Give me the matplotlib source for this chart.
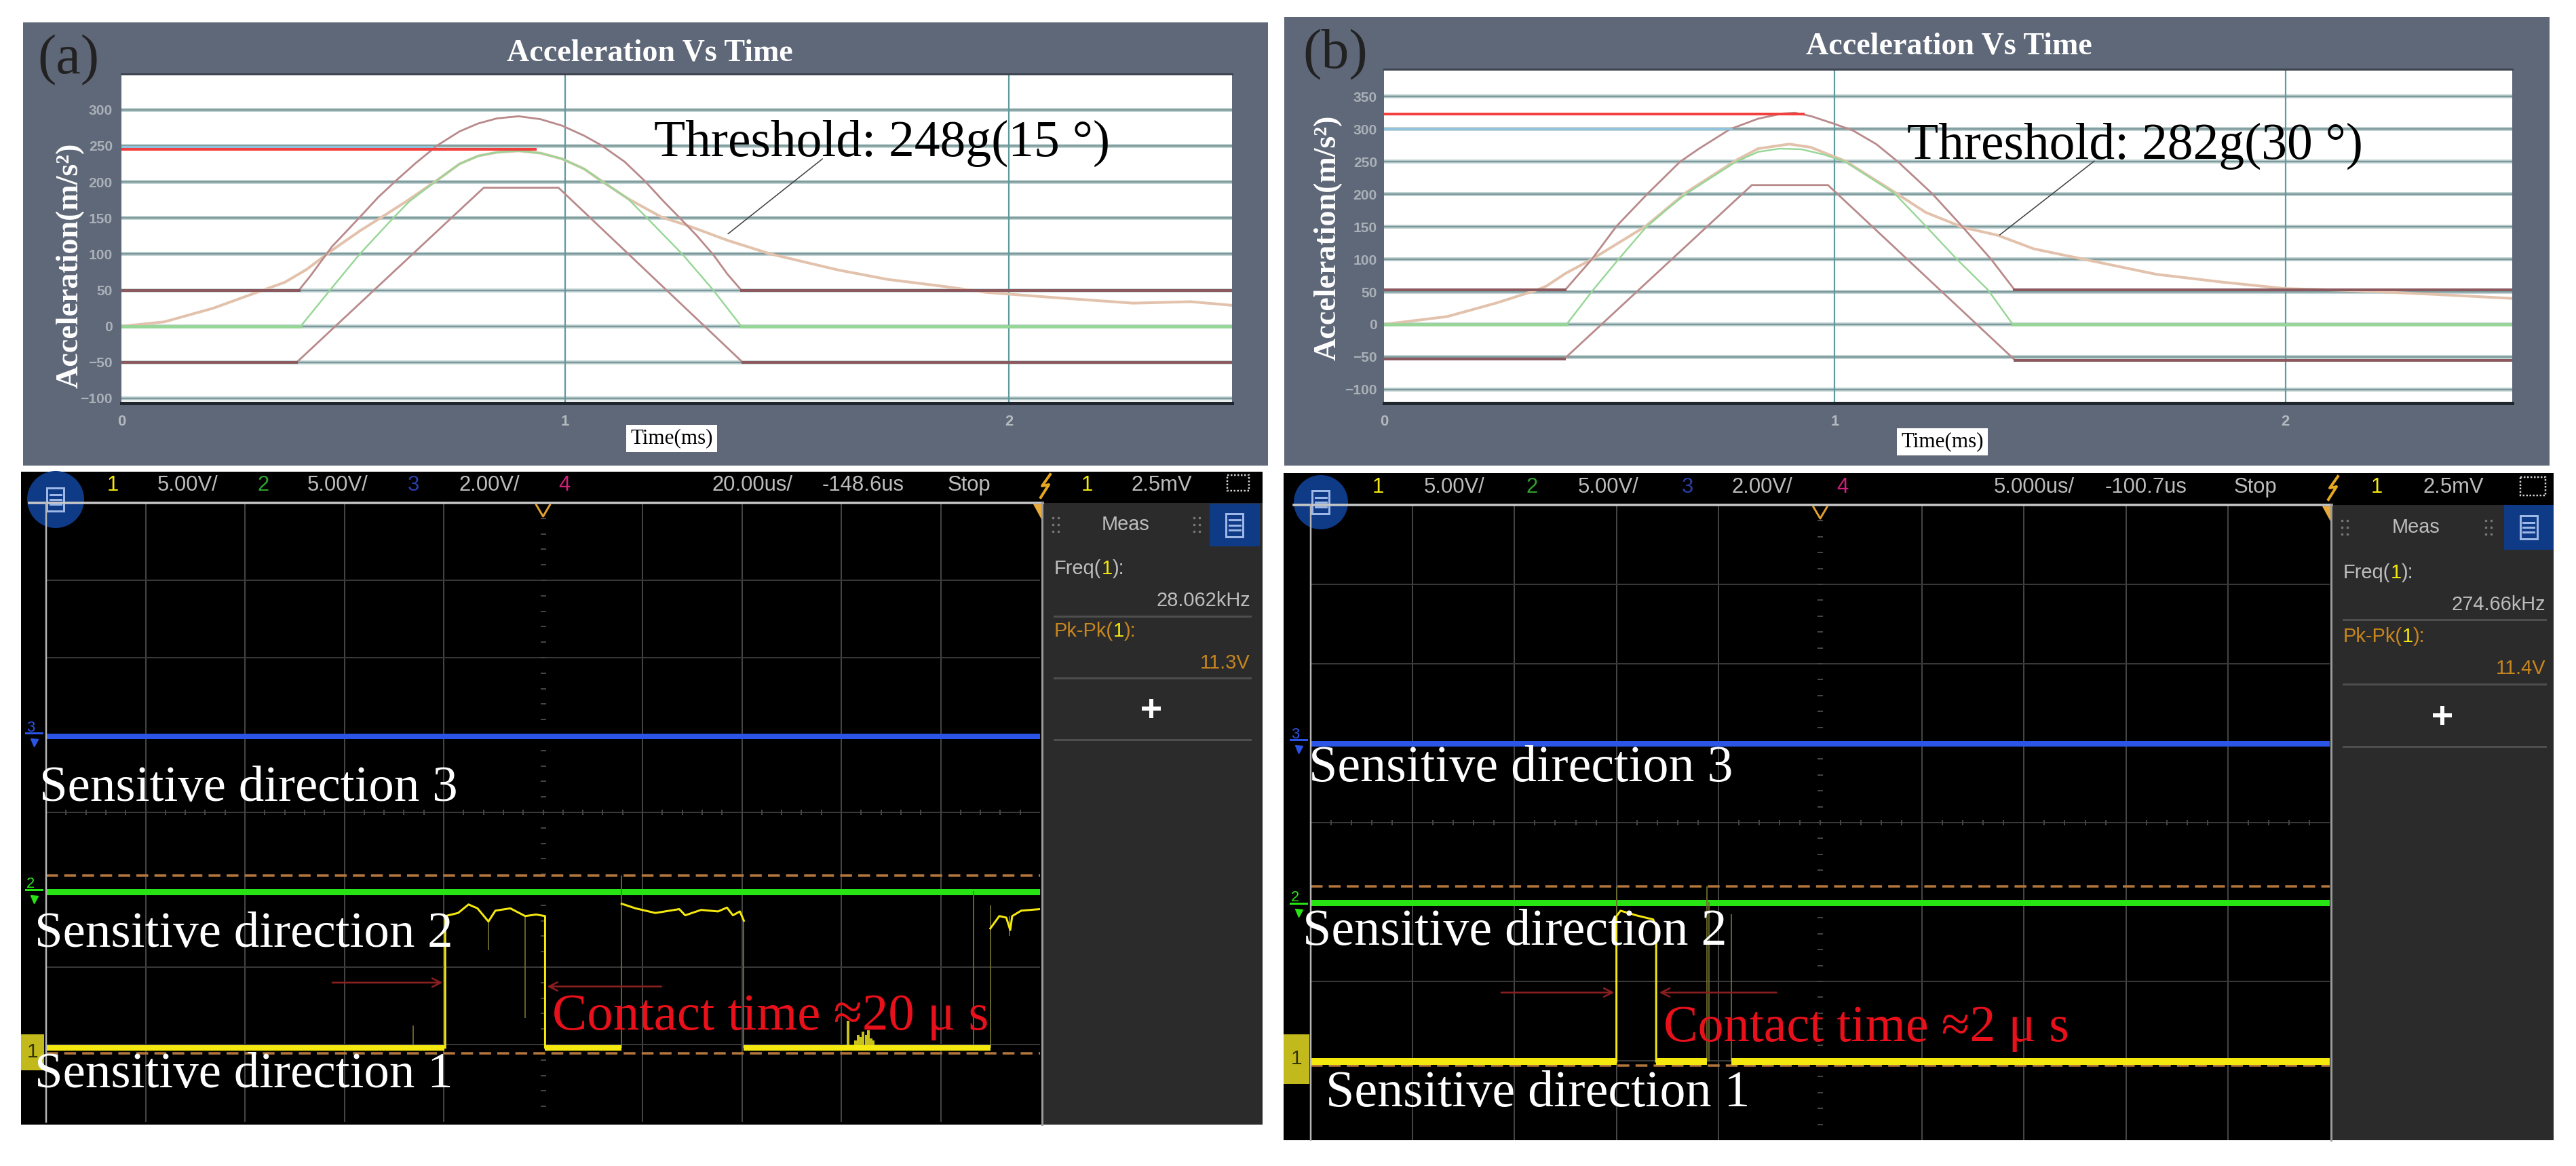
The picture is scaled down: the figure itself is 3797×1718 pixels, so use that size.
#!/usr/bin/env python3
import numpy as np
import matplotlib
matplotlib.use("Agg")
import matplotlib.pyplot as plt
from matplotlib.patches import Rectangle, Circle

W, H = 3798, 1718
SERIF = "Liberation Serif"
SANS = "Liberation Sans"

# =========================
# acceleration panels: values
# =========================
a_upper_t = [0, 0.400, 0.425, 0.474, 0.537, 0.579, 0.621, 0.663, 0.713, 0.762, 0.804, 0.846, 0.895, 0.944, 0.993,
             1.043, 1.081, 1.134, 1.180, 1.222, 1.257, 1.296, 1.334, 1.366, 1.397, 2.503]
a_upper_v = [50, 50, 69, 110, 151, 179, 203, 226, 251, 270, 281, 288, 291, 287, 278,
             264, 251, 228, 201, 173, 151, 126, 99, 72, 50, 50]
a_green_t = [0, 0.404, 0.470, 0.537, 0.614, 0.649, 0.713, 0.762, 0.804, 0.846, 0.895, 0.944, 0.993,
             1.043, 1.078, 1.141, 1.183, 1.264, 1.334, 1.397, 2.503]
a_green_v = [0, 0, 50, 100, 151, 173, 203, 225, 236, 241, 243, 240, 232,
             218, 203, 177, 151, 100, 50, 0, 0]
a_lower_t = [0, 0.395, 0.8165, 0.985, 1.40, 2.503]
a_lower_v = [-50, -50, 192, 192, -50, -50]
a_accel_t = [0, 0.096, 0.207, 0.319, 0.3685, 0.418, 0.474, 0.537, 0.586, 0.642, 0.713, 0.762, 0.804, 0.846, 0.895,
             0.944, 0.993, 1.043, 1.078, 1.141, 1.218, 1.274, 1.366, 1.464, 1.615, 1.726, 1.856, 1.948, 2.096, 2.28,
             2.41, 2.503]
a_accel_v = [0, 6, 25, 50, 61, 79, 105, 132, 151, 173, 203, 225, 236, 241, 243,
             240, 232, 218, 203, 177, 151, 140, 119, 100, 78, 65, 55, 47, 40, 32,
             34, 29]
a_red_t = [0, 0.933]
a_red_v = [245, 245]
a_blue_t = [0, 0.70]
a_blue_v = [249, 249]
a_yticks = [-100, -50, 0, 50, 100, 150, 200, 250, 300]

b_upper_t = [0, 0.402, 0.461, 0.516, 0.585, 0.657, 0.699, 0.768, 0.830, 0.885, 0.912, 0.947, 0.995,
             1.040, 1.092, 1.140, 1.216, 1.282, 1.347, 1.399, 2.50]
b_upper_v = [53, 53, 100, 151, 201, 250, 270, 300, 316, 324, 325, 320, 309,
             298, 277, 250, 201, 151, 100, 53, 53]
b_green_t = [0, 0.405, 0.464, 0.519, 0.581, 0.630, 0.671, 0.781, 0.830, 0.878, 0.926, 0.975, 1.023,
             1.133, 1.202, 1.271, 1.340, 1.395, 2.50]
b_green_v = [0, 0, 53, 99, 149, 178, 201, 250, 265, 270, 269, 261, 250,
             201, 151, 100, 53, 0, 0]
b_lower_t = [0, 0.40, 0.816, 0.985, 1.40, 2.50]
b_lower_v = [-53, -53, 214, 214, -55, -55]
b_accel_t = [0, 0.14, 0.25, 0.34, 0.3606, 0.402, 0.461, 0.581, 0.671, 0.781, 0.830, 0.899, 0.947, 1.023, 1.133,
             1.202, 1.285, 1.361, 1.442, 1.567, 1.713, 1.859, 2.0, 2.15, 2.334, 2.50]
b_accel_v = [0, 12, 33, 53, 59, 78, 100, 151, 203, 252, 270, 277, 272, 251, 203,
             172, 149, 137, 116, 98, 77, 65, 55, 52, 46, 40]
b_red_t = [0, 0.93]
b_red_v = [323, 323]
b_blue_t = [0, 0.77]
b_blue_v = [300, 300]
b_yticks = [-100, -50, 0, 50, 100, 150, 200, 250, 300, 350]

xticks_ms = [0, 1, 2]

# =========================
# oscilloscope traces, in screen divisions
# =========================
a_blue_level = 4.98
a_green_level = 2.97
a_trig_levels = [3.18, 0.89]
a_low_x = [0, 4.01, np.nan, 5.02, 5.79, np.nan, 7.02, 9.50]
a_low_y = [0.96, 0.96, np.nan, 0.96, 0.96, np.nan, 0.96, 0.96]
a_high_x = [4.015, 4.015, 4.145, 4.25, 4.34, 4.45, 4.52, 4.67, 4.76, 4.82, 4.93, 5.02, 5.02, np.nan,
            5.79, 5.93, 6.13, 6.37, 6.43, 6.59, 6.76, 6.85, 6.91, 6.98, 7.02, np.nan,
            9.50, 9.59, 9.66, 9.70, 9.72, 9.81, 10.0]
a_high_y = [0.96, 2.66, 2.70, 2.81, 2.76, 2.59, 2.73, 2.76, 2.70, 2.66, 2.68, 2.66, 0.96, np.nan,
            2.82, 2.76, 2.70, 2.75, 2.67, 2.74, 2.72, 2.77, 2.67, 2.72, 2.60, np.nan,
            2.50, 2.66, 2.64, 2.48, 2.66, 2.73, 2.75]
a_spike_x = [3.69, 4.45, 4.82, 5.79, 7.02, 9.33, 9.50, 9.69]
a_spike_lo = [0.96, 2.22, 1.34, 0.96, 0.96, 0.96, 0.96, 2.4]
a_spike_hi = [1.25, 2.59, 2.66, 3.18, 2.60, 2.98, 2.80, 2.66]
a_noise_x = [8.07, 8.14, 8.17, 8.20, 8.22, 8.25, 8.27, 8.30, 8.32]
a_noise_hi = [1.31, 1.05, 1.12, 1.10, 1.17, 1.12, 1.18, 1.08, 1.05]

b_blue_level = 4.99
b_green_level = 2.99
b_trig_levels = [3.20, 0.94]
b_low_x = [0, 3.0, np.nan, 3.39, 3.89, np.nan, 4.13, 10.0]
b_low_y = [0.99, 0.99, np.nan, 0.99, 0.99, np.nan, 0.99, 0.99]
b_high_x = [3.0, 3.0, 3.04, 3.20, 3.36, 3.39, 3.39]
b_high_y = [0.99, 2.82, 2.89, 2.83, 2.78, 2.70, 0.99]
b_spike_x = [3.0, 3.89, 3.91, 4.13]
b_spike_lo = [2.8, 0.99, 0.99, 0.99]
b_spike_hi = [3.2, 3.2, 3.0, 2.85]

# texts
title_text = "Acceleration Vs Time"
ylabel_text = "Acceleration(m/s²)"
xlabel_text = "Time(ms)"
a_threshold = "Threshold: 248g(15 °)"
b_threshold = "Threshold: 282g(30 °)"
a_contact = "Contact time ≈20 μ s"
b_contact = "Contact time ≈2 μ s"
a_scope_vals = ["20.00us/", "-148.6us", "28.062kHz", "11.3V"]
b_scope_vals = ["5.000us/", "-100.7us", "274.66kHz", "11.4V"]

PANEL = "#5f6878"
ROSE = "#b98a8b"
ROSE_D = "#8c5a5e"
GREEN_L = "#96d696"
TAN = "#e2c2ac"
RED = "#f2403f"
SKY = "#8ec3e0"
DARK = "#2b2b2b"
TXT = "#bdbdbd"
ORANGE = "#c8861e"
YELLOW = "#f4e80e"
NAVY = "#0f3a86"


def pt(px):
    return px * 0.72


def make_axes(l, t, r, b, **kw):
    return fig.add_axes([l / W, 1 - b / H, (r - l) / W, (b - t) / H], **kw)


fig = plt.figure(figsize=(W / 100, H / 100), dpi=100, facecolor="white")
bg = make_axes(0, 0, W, H, zorder=-5)
fg = make_axes(0, 0, W, H, zorder=10)
for o in (bg, fg):
    o.set_xlim(0, W)
    o.set_ylim(H, 0)
    o.axis("off")
renderer = fig.canvas.get_renderer()


# =========================
# upper panels
# =========================
def draw_accel(box, plot, ylim, yticks, upper, green, lower, accel, red, blue, leader, tick_pad):
    bg.add_patch(Rectangle((box[0], box[1]), box[2] - box[0], box[3] - box[1], fc=PANEL, ec="none"))
    ax = make_axes(*plot)
    ax.set_xlim(0, 2.503)
    ax.set_ylim(*ylim)
    ax.set_facecolor("white")
    for y in yticks:
        ax.axhline(y, color="#b3c8c8", lw=pt(5.5), zorder=1)
        ax.axhline(y, color="#7d989a", lw=pt(2), zorder=1.1)
    for t in xticks_ms[1:]:
        ax.axvline(t, color="#5f9a9c", lw=pt(2.2), zorder=1.2)

    ax.plot(*accel, color=TAN, lw=pt(4), zorder=3)
    ax.plot(*green, color=GREEN_L, lw=pt(2.4), zorder=3.2)
    # flat guard levels are heavier than the slopes
    ax.plot(green[0][:2], green[1][:2], color=GREEN_L, lw=pt(4.5), zorder=3.2)
    ax.plot(green[0][-2:], green[1][-2:], color=GREEN_L, lw=pt(4.5), zorder=3.2)
    for curve in (upper, lower):
        ax.plot(*curve, color=ROSE, lw=pt(2.8), zorder=3.4)
        ax.plot(curve[0][:2], curve[1][:2], color=ROSE_D, lw=pt(4), zorder=3.4)
        ax.plot(curve[0][-2:], curve[1][-2:], color=ROSE_D, lw=pt(4), zorder=3.4)
    ax.plot(*blue, color=SKY, lw=pt(3), zorder=3.5)
    ax.plot(*red, color=RED, lw=pt(4), zorder=3.6)
    ax.annotate("", xy=leader[0], xytext=leader[1], zorder=5,
                arrowprops=dict(arrowstyle="-", color="#444444", lw=pt(1.6), shrinkA=0, shrinkB=0))

    ax.set_xticks(xticks_ms)
    ax.set_yticks(yticks)
    ax.tick_params(axis="x", length=0, pad=pt(17), labelsize=pt(22), labelcolor="#b4b9c0")
    ax.tick_params(axis="y", length=0, pad=pt(tick_pad), labelsize=pt(21), labelcolor="#aab0b8")
    for lab in ax.get_xticklabels() + ax.get_yticklabels():
        lab.set_fontfamily(SANS)
        lab.set_fontweight("bold")
    for side in ("left", "right"):
        ax.spines[side].set_visible(False)
    ax.spines["top"].set_color("#3d4450")
    ax.spines["top"].set_linewidth(pt(3))
    ax.spines["bottom"].set_color("#20262e")
    ax.spines["bottom"].set_linewidth(pt(5))


a_plot = (179, 109, 1816, 594)
b_plot = (2040, 102, 3703, 594)
draw_accel((34, 33, 1869, 686), a_plot, (-106.6, 349.6), a_yticks,
           (a_upper_t, a_upper_v), (a_green_t, a_green_v), (a_lower_t, a_lower_v), (a_accel_t, a_accel_v),
           (a_red_t, a_red_v), (a_blue_t, a_blue_v), ((1.367, 128), (1.58, 232)), 13)
draw_accel((1893, 25, 3758, 686), b_plot, (-121, 392), b_yticks,
           (b_upper_t, b_upper_v), (b_green_t, b_green_v), (b_lower_t, b_lower_v), (b_accel_t, b_accel_v),
           (b_red_t, b_red_v), (b_blue_t, b_blue_v), ((1.366, 137.5), (1.576, 251)), 10)

for x, y in ((958, 78), (2873, 68)):
    fg.text(x, y, title_text, family=SERIF, weight="bold", color="white", size=pt(46), ha="center", va="center")
for x, y in ((103, 391), (1957, 350)):
    fg.text(x, y, ylabel_text, family=SERIF, weight="bold", color="white", size=pt(46), rotation=90,
            ha="center", va="center")
for x, y in ((990, 646), (2863, 651)):
    fg.text(x, y, xlabel_text, family=SERIF, color="black", size=pt(31), ha="center", va="center",
            bbox=dict(fc="white", ec="none", pad=pt(6)))
fg.text(964, 230, a_threshold, family=SERIF, color="black", size=pt(75.5))
fg.text(2811, 234, b_threshold, family=SERIF, color="black", size=pt(75.5))
fg.text(55, 108, "(a)", family=SERIF, color="#222222", size=pt(82))
fg.text(1920, 100, "(b)", family=SERIF, color="#222222", size=pt(82))


# =========================
# oscilloscope panels
# =========================
def pieces(x, y, parts, size):
    for s, c in parts:
        t = fg.text(x, y, s, color=c, family=SANS, size=pt(size), va="center")
        x = t.get_window_extent(renderer).x1


def menu_icon(cx, cy, w, h):
    fg.add_patch(Rectangle((cx - w / 2, cy - h / 2), w, h, fc="none", ec="#9db7e6", lw=pt(3)))
    for f in (-0.22, 0, 0.22):
        fg.plot([cx - w * 0.32, cx + w * 0.32], [cy + f * h, cy + f * h], color="#9db7e6", lw=pt(3))


def draw_scope(box, plot, split, hdr, circle, tab, rows, vals, traces, arrows, low_lw):
    l, t, r, b = box
    bg.add_patch(Rectangle((l, t), r - l, b - t, fc="black", ec="none"))
    bg.add_patch(Rectangle((split, plot[1]), r - split, b - plot[1], fc=DARK, ec="none"))

    ax = make_axes(*plot)
    ax.set_xlim(0, 10)
    ax.set_ylim(0, 8)
    ax.set_facecolor("black")
    ax.axis("off")
    for d in (1, 2, 3, 4, 6, 7, 8, 9):
        ax.axvline(d, color="#444444", lw=pt(2), zorder=1)
    for d in (1, 2, 4, 6, 7):
        ax.axhline(d, color="#383838", lw=pt(2), zorder=1)
    # dotted centre cross
    cx = np.arange(0.2, 10, 0.2)
    cy = np.arange(0.2, 8, 0.2)
    ax.plot(cx, np.full_like(cx, 4), ls="none", marker="|", ms=pt(8), color="#444444", mew=pt(2), zorder=1)
    ax.plot(np.full_like(cy, 5), cy, ls="none", marker="_", ms=pt(8), color="#444444", mew=pt(2), zorder=1)

    ax.axhline(traces["blue"], color="#2a55e6", lw=pt(8), zorder=3)
    for lvl in traces["trig"]:
        ax.axhline(lvl, color="#b3763c", lw=pt(3.5), dashes=(5, 2.6), zorder=3)
    ax.axhline(traces["green"], color="#28e414", lw=pt(9), zorder=3)
    ax.vlines(traces["spike_x"], traces["spike_lo"], traces["spike_hi"], color="#6f6d2c", lw=pt(1.8), zorder=3.5)
    if "noise_x" in traces:
        ax.vlines(traces["noise_x"], traces["low_y"][0], traces["noise_hi"], color="#c9c21a", lw=pt(4), zorder=3.5)
    ax.plot(traces["low_x"], traces["low_y"], color=YELLOW, lw=pt(low_lw), solid_capstyle="butt", zorder=4)
    ax.plot(traces["high_x"], traces["high_y"], color=YELLOW, lw=pt(3), zorder=4)
    for tip, tail, y in arrows:
        ax.annotate("", xy=(tip, y), xytext=(tail, y), zorder=5,
                    arrowprops=dict(arrowstyle="->,head_length=0.9,head_width=0.45", color="#8a1f1f", lw=pt(2.6),
                                    shrinkA=0, shrinkB=0))

    # frame lines
    fg.plot([plot[0] - 25, split], [plot[1], plot[1]], color="#c9c9c9", lw=pt(3.5))
    fg.plot([plot[0], plot[0]], [plot[1], plot[3]], color="#b5b5b5", lw=pt(2.5))
    fg.plot([split - 1, split - 1], [plot[1], b], color="#9b9b9b", lw=pt(3))

    # header strip
    y = hdr["y"]
    for x, s, c in hdr["items"]:
        fg.text(x, y, s, color=c, family=SANS, size=pt(31), va="center")
    bx = hdr["bolt"]
    fg.plot([bx + 7, bx - 5, bx + 5, bx - 7], [y - 16, y + 1, y - 1, y + 18], color="#e6a81e", lw=pt(4))
    sq = hdr["square"]
    fg.add_patch(Rectangle((sq[0], sq[1]), sq[2], sq[3], fc="none", ec="#d0d0d0", lw=pt(2.5), ls=(0, (1, 1))))

    # menu button
    fg.add_patch(Circle(circle[:2], circle[2], fc=NAVY, ec="none"))
    menu_icon(circle[0], circle[1], 25, 34)

    # trigger marks
    mx = (plot[0] + plot[2]) / 2
    fg.plot([mx - 10, mx, mx + 10], [plot[1] + 3, plot[1] + 20, plot[1] + 3], color="#e0a030", lw=pt(3))
    fg.fill([split - 14, split - 2, split - 2], [plot[1] + 2, plot[1] + 2, plot[1] + 24], color="#e8aa3a", lw=0)

    # measurement side bar
    fg.add_patch(Rectangle((tab[0], tab[1]), tab[2] - tab[0], tab[3] - tab[1], fc=NAVY, ec="none"))
    menu_icon((tab[0] + tab[2]) / 2, (tab[1] + tab[3]) / 2, 25, 34)
    fg.text(rows["meas_x"], rows["meas_y"], "Meas", color=TXT, family=SANS, size=pt(29), ha="center", va="center")
    for dx in rows["grip"]:
        fg.plot([dx, dx + 8] * 3, np.repeat([rows["meas_y"] - 10, rows["meas_y"], rows["meas_y"] + 10], 2),
                ls="none", marker="s", ms=pt(2.5), color="#777777")
    pieces(rows["left"], rows["y"][0], [("Freq(", TXT), ("1", YELLOW), ("):", TXT)], 29)
    fg.text(rows["right"], rows["y"][1], vals[2], color=TXT, family=SANS, size=pt(29), ha="right", va="center")
    pieces(rows["left"], rows["y"][2], [("Pk-Pk(", ORANGE), ("1", YELLOW), ("):", ORANGE)], 29)
    fg.text(rows["right"], rows["y"][3], vals[3], color=ORANGE, family=SANS, size=pt(29), ha="right", va="center")
    for ly in rows["lines"]:
        fg.plot([rows["left"], rows["right"]], [ly, ly], color="#4e4e4e", lw=pt(3))
    fg.plot([rows["plus"][0] - 11, rows["plus"][0] + 11], [rows["plus"][1]] * 2, color="white", lw=pt(6))
    fg.plot([rows["plus"][0]] * 2, [rows["plus"][1] - 11, rows["plus"][1] + 11], color="white", lw=pt(6))

    # channel markers at the left edge
    for ym, num, col in hdr["chan"]:
        fg.text(plot[0] - 23, ym, num, color=col, family=SANS, size=pt(22), ha="center", va="center")
        fg.plot([plot[0] - 30, plot[0] - 6], [ym + 8, ym + 8], color=col, lw=pt(3))
        fg.plot([plot[0] - 18], [ym + 22], marker="v", ms=pt(11), color=col, ls="none")
    yb = hdr["ybox"]
    fg.add_patch(Rectangle((yb[0], yb[1]), yb[2] - yb[0], yb[3] - yb[1], fc="#c2b91c", ec="none"))
    fg.text((yb[0] + yb[2]) / 2, (yb[1] + yb[3]) / 2, "1", color="#333300", family=SANS, size=pt(30),
            ha="center", va="center")


a_traces = dict(blue=a_blue_level, green=a_green_level, trig=a_trig_levels, low_x=a_low_x, low_y=a_low_y,
                high_x=a_high_x, high_y=a_high_y, spike_x=a_spike_x, spike_lo=a_spike_lo, spike_hi=a_spike_hi,
                noise_x=a_noise_x, noise_hi=a_noise_hi)
b_traces = dict(blue=b_blue_level, green=b_green_level, trig=b_trig_levels, low_x=b_low_x, low_y=b_low_y,
                high_x=b_high_x, high_y=b_high_y, spike_x=b_spike_x, spike_lo=b_spike_lo, spike_hi=b_spike_hi)

a_hdr = dict(y=715, bolt=1541, square=(1809, 700, 32, 23),
             items=[(158, "1", YELLOW), (232, "5.00V/", TXT), (380, "2", "#30a030"), (453, "5.00V/", TXT),
                    (601, "3", "#2a3fa8"), (677, "2.00V/", TXT), (823, "4", "#d0207a"),
                    (1050, a_scope_vals[0], TXT), (1212, a_scope_vals[1], TXT), (1397, "Stop", TXT),
                    (1594, "1", YELLOW), (1668, "2.5mV", TXT)],
             chan=[(1072, "3", "#2a55e6"), (1303, "2", "#28e414")], ybox=(31, 1524, 65, 1577))
a_rows = dict(meas_x=1659, meas_y=773, grip=(1552, 1760), left=1554, right=1843, y=(838, 885, 930, 977),
              lines=(908, 999, 1090), plus=(1697, 1044))
b_hdr = dict(y=718, bolt=3439, square=(3715, 703, 37, 27),
             items=[(2023, "1", YELLOW), (2099, "5.00V/", TXT), (2250, "2", "#30a030"), (2326, "5.00V/", TXT),
                    (2479, "3", "#2a3fa8"), (2553, "2.00V/", TXT), (2707, "4", "#d0207a"),
                    (2939, b_scope_vals[0], TXT), (3103, b_scope_vals[1], TXT), (3293, "Stop", TXT),
                    (3495, "1", YELLOW), (3572, "2.5mV", TXT)],
             chan=[(1082, "3", "#2a55e6"), (1323, "2", "#28e414")], ybox=(1892, 1524, 1930, 1597))
b_rows = dict(meas_x=3561, meas_y=777, grip=(3452, 3664), left=3454, right=3752, y=(844, 891, 938, 985),
              lines=(913, 1008, 1100), plus=(3600, 1054))

draw_scope((31, 695, 1861, 1657), (68, 741, 1533, 1653), 1537, a_hdr, (82, 736, 42), (1783, 742, 1857, 805),
           a_rows, a_scope_vals, a_traces, [(3.99, 2.88, 1.80), (5.04, 6.19, 1.75)], 8)
draw_scope((1892, 697, 3764, 1680), (1932, 744, 3434, 1680), 3437, b_hdr, (1947, 740, 40), (3691, 744, 3764, 810),
           b_rows, b_scope_vals, b_traces, [(2.98, 1.87, 1.86), (3.42, 4.57, 1.86)], 10)

# labels over the traces
for x, y, s, size in ((58, 1180, "Sensitive direction 3", 75), (51, 1395, "Sensitive direction 2", 75),
                      (51, 1602, "Sensitive direction 1", 75), (1929, 1151, "Sensitive direction 3", 76),
                      (1920, 1392, "Sensitive direction 2", 76), (1954, 1630, "Sensitive direction 1", 76)):
    fg.text(x, y, s, family=SERIF, color="white", size=pt(size))
fg.text(814, 1517, a_contact, family=SERIF, color="#e8101a", size=pt(77))
fg.text(2452, 1534, b_contact, family=SERIF, color="#e8101a", size=pt(76))

fig.savefig("out.png", dpi=100, facecolor="white")
